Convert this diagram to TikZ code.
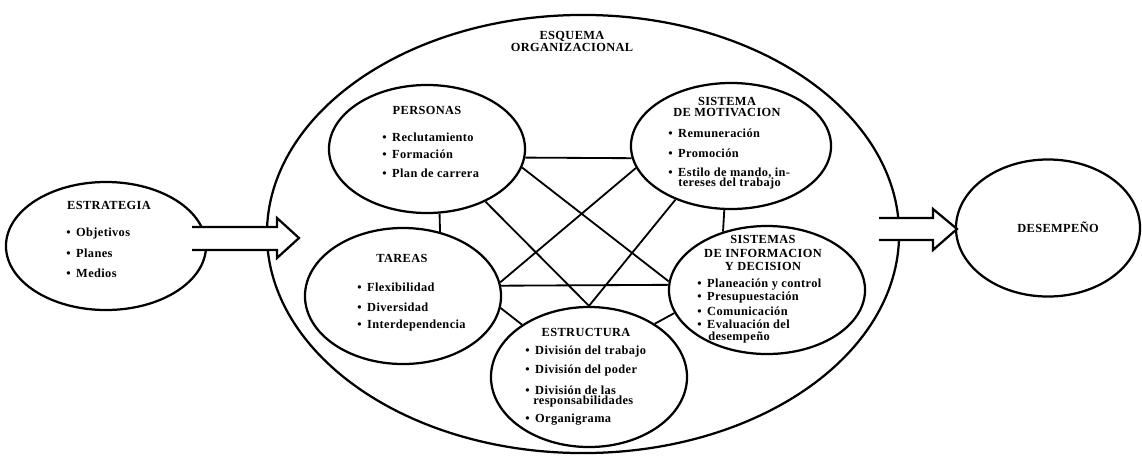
\documentclass[tikz,border=0pt]{standalone}
\usepackage{fontspec}
\setmainfont{Liberation Serif}[LetterSpace=3]
\usepackage{tikz}
\usetikzlibrary{shapes.geometric,positioning}
\newcommand{\bul}{\textbullet\hspace{4pt}}
\tikzset{
  blob/.style  = {draw, ellipse, line width=1.6pt, inner sep=0pt},
  link/.style  = {line width=1.3pt},
  ttl/.style   = {font=\fontsize{8.8}{9.5}\selectfont\bfseries, align=center, inner sep=0pt},
  itm/.style   = {font=\fontsize{8.8}{9.5}\selectfont\bfseries, anchor=west, inner sep=0pt},
  hollow/.style= {line width=1.6pt, fill=white},
}
\begin{document}
\begin{tikzpicture}[x=0.025cm,y=-0.025cm]
  \useasboundingbox (0,0) rectangle (1142,455);
  % outer shapes
  \node[blob, minimum width=15.8cm, minimum height=10.95cm] (esquema) at (583,234) {};
  \node[blob, minimum width=5.0cm, minimum height=3.2cm] (estr) at (106,246) {};
  \node[blob, minimum width=4.6cm, minimum height=3.425cm] (desemp) at (1048,228) {};
  % block arrows, open at the back
  \filldraw[hollow] (192,227) -- (277,227) -- (277,218) -- (299,238) -- (277,258) -- (277,250) -- (192,250);
  \filldraw[hollow] (879,218) -- (933,218) -- (933,209) -- (957,229) -- (933,250) -- (933,240) -- (879,240);
  % inner ellipses
  \node[blob, minimum width=4.9cm, minimum height=3.2cm] (pers) at (427,149) {};
  \node[blob, minimum width=5.0cm, minimum height=3.15cm] (motiv) at (731,146) {};
  \node[blob, minimum width=4.9cm, minimum height=3.4cm] (tareas) at (403,296) {};
  \node[blob, minimum width=4.9cm, minimum height=3.2cm] (info) at (767,290) {};
  \node[blob, minimum width=4.9cm, minimum height=3.5cm] (estruc) at (589,377) {};
  % links
  \draw[link] (pers.-5) -- (motiv.187);
  \draw[link] (tareas.6) -- (info.177);
  \draw[link] (pers.-79) -- (tareas.60);
  \draw[link] (motiv.-96) -- (info.127);
  \draw[link] (tareas.-7) -- (estruc.142);
  \draw[link] (info.194) -- (estruc.39);
  \draw[link] (pers.-11) -- (info.175);
  \draw[link] (pers.-42) -- (estruc.north);
  \draw[link] (motiv.193) -- (tareas.8);
  \draw[link] (motiv.224) -- (estruc.north);
  % texts
  \node[ttl] (esq-t) at (572,41) {ESQUEMA\\[-1pt]ORGANIZACIONAL};
  \node[ttl] (estr-t) at (109,205) {ESTRATEGIA};
  \node[itm] (estr-1) at (66,234) {\bul Objetivos};
  \node[itm] (estr-2) at (66,253) {\bul Planes};
  \node[itm] (estr-3) at (66,273) {\bul Medios};
  \node[ttl] (desemp-t) at (1058,227) {DESEMPEÑO};
  %
  \node[ttl] (pers-t) at (427,110) {PERSONAS};
  \node[itm] (pers-1) at (382,137) {\bul Reclutamiento};
  \node[itm] (pers-2) at (382,154) {\bul Formación};
  \node[itm] (pers-3) at (382,173) {\bul Plan de carrera};
  %
  \node[ttl] (motiv-t) at (727,107) {SISTEMA\\[-1.7pt]DE MOTIVACION};
  \node[itm] (motiv-1) at (668,133) {\bul Remuneración};
  \node[itm] (motiv-2) at (668,153) {\bul Promoción};
  \node[itm] (motiv-3) at (668,173) {\bul Estilo de mando, in-};
  \node[itm] (motiv-4) at (678,184) {tereses del trabajo};
  %
  \node[ttl] (tareas-t) at (402,258) {TAREAS};
  \node[itm] (tareas-1) at (357,287) {\bul Flexibilidad};
  \node[itm] (tareas-2) at (357,307) {\bul Diversidad};
  \node[itm] (tareas-3) at (357,326) {\bul Interdependencia};
  %
  \node[ttl] (info-t) at (763,253) {SISTEMAS\\DE INFORMACION\\Y DECISION};
  \node[itm] (info-1) at (697,285) {\bul Planeación y control};
  \node[itm] (info-2) at (697,298) {\bul Presupuestación};
  \node[itm] (info-3) at (697,311) {\bul Comunicación};
  \node[itm] (info-4) at (697,324) {\bul Evaluación del};
  \node[itm] (info-5) at (708,337) {desempeño};
  %
  \node[ttl] (estruc-t) at (586,332) {ESTRUCTURA};
  \node[itm] (estruc-1) at (525,352) {\bul División del trabajo};
  \node[itm] (estruc-2) at (525,371) {\bul División del poder};
  \node[itm] (estruc-3) at (525,390) {\bul División de las};
  \node[itm] (estruc-4) at (533,402) {responsabilidades};
  \node[itm] (estruc-5) at (525,420) {\bul Organigrama};
\end{tikzpicture}
\end{document}
